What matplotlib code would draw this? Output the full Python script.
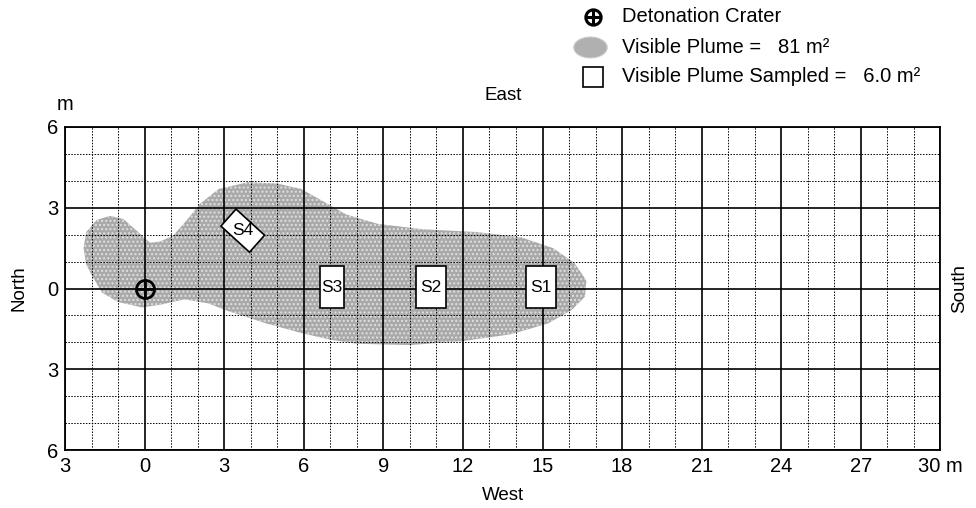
import matplotlib
matplotlib.use("Agg")
import matplotlib.pyplot as plt
from matplotlib.patches import Polygon, Rectangle
from matplotlib.lines import Line2D
from matplotlib.path import Path
from matplotlib.ticker import MultipleLocator, FixedLocator
import numpy as np

plt.rcParams['font.family'] = ['Liberation Sans', 'DejaVu Sans']

# plume outline (m)
plume_x = [-2.3, -2.2, -1.8, -1.3, -0.8, -0.3, 0.2, 0.6, 1.08, 1.6, 2.1, 2.8, 3.9, 5.0,
           5.9, 6.8, 7.6, 8.8, 10.5, 12.5, 14.2, 15.4, 16.2, 16.65, 16.6, 16.1, 15.2,
           13.8, 12.0, 10.0, 8.0, 7.0, 5.9, 4.6, 3.1, 2.4, 1.5, 0.6, -0.1, -1.0, -1.6,
           -2.0, -2.2]
plume_y = [1.5, 2.1, 2.55, 2.7, 2.58, 2.15, 1.7, 1.75, 1.97, 2.55, 3.16, 3.7, 3.95, 3.9,
           3.7, 3.2, 2.75, 2.4, 2.2, 2.1, 1.9, 1.5, 0.95, 0.3, -0.3, -0.8, -1.3,
           -1.7, -1.95, -2.1, -2.05, -1.9, -1.65, -1.3, -0.82, -0.55, -0.4, -0.6, -0.7,
           -0.5, -0.15, 0.5, 0.9]

crater = (0, 0)

sample_names = ['S1', 'S2', 'S3', 'S4']
sample_x = [14.95, 10.8, 7.07, 3.7]
sample_y = [0.05, 0.05, 0.05, 2.15]
sample_w = [1.15, 1.15, 0.9, 1.45]
sample_h = [1.55, 1.55, 1.55, 0.85]
sample_angle = [0, 0, 0, -42]

x_ticks = [-3, 0, 3, 6, 9, 12, 15, 18, 21, 24, 27, 30]
x_labels = ['3', '0', '3', '6', '9', '12', '15', '18', '21', '24', '27', '30 m']
y_ticks = [-6, -3, 0, 3, 6]
y_labels = ['6', '3', '0', '3', '6']

fig = plt.figure(figsize=(9.76, 5.08), dpi=100)
ax = fig.add_axes([0.0666, 0.114, 0.897, 0.636])
ax.set_xlim(-3, 30)
ax.set_ylim(-6, 6)

# plume: grey fill plus stipple
pts = np.column_stack([plume_x, plume_y])
ax.add_patch(Polygon(pts, closed=True, facecolor='#a9a9a9', edgecolor='none', zorder=1))
ax.add_patch(Polygon(pts, closed=True, facecolor='none', edgecolor='#e0e0e0',
                     hatch='....', lw=0, zorder=1.1))

# grid
ax.xaxis.set_major_locator(FixedLocator(x_ticks))
ax.yaxis.set_major_locator(FixedLocator(y_ticks))
ax.xaxis.set_minor_locator(MultipleLocator(1))
ax.yaxis.set_minor_locator(MultipleLocator(1))
ax.grid(which='major', color='black', lw=1.2, ls='-', zorder=2)
ax.grid(which='minor', color='black', lw=0.7, ls=(0, (1.5, 1.5)), zorder=2)
ax.set_axisbelow(False)
ax.tick_params(which='both', length=0, labelsize=14.5, pad=5)
ax.set_xticklabels(x_labels)
ax.set_yticklabels(y_labels)
for s in ax.spines.values():
    s.set_linewidth(1.3)
    s.set_zorder(5)

# samples
for name, x, y, w, h, a in zip(sample_names, sample_x, sample_y, sample_w, sample_h, sample_angle):
    ax.add_patch(Rectangle((x - w / 2, y - h / 2), w, h, angle=a, rotation_point='center',
                           facecolor='white', edgecolor='black', lw=1.2, zorder=6))
    ax.text(x, y, name, ha='center', va='center', fontsize=12.5, zorder=7)

# crater
ax.plot(*crater, marker='o', ms=13, mfc='none', mec='black', mew=2, zorder=7)
ax.plot(*crater, marker='+', ms=13, mec='black', mew=2, zorder=7)

# direction labels
ax.text(0.5, 1.096, 'East', transform=ax.transAxes, ha='center', va='center', fontsize=13.5)
ax.text(0.5, -0.142, 'West', transform=ax.transAxes, ha='center', va='center', fontsize=13.5)
ax.text(-0.043, 0.5, 'North', transform=ax.transAxes, ha='right', va='center',
        rotation=90, fontsize=13.5)
ax.text(1.012, 0.5, 'South', transform=ax.transAxes, ha='left', va='center',
        rotation=90, fontsize=13.5)
ax.text(0.0, 1.07, 'm', transform=ax.transAxes, ha='center', va='center', fontsize=14.5)

# legend
lx = 593 / 976
ty = [1 - 17 / 508, 1 - 47 / 508, 1 - 77 / 508]
tx = 622 / 976
fig.add_artist(Line2D([lx], [ty[0]], transform=fig.transFigure, marker='o', ms=11,
                      mfc='none', mec='black', mew=2.2))
fig.add_artist(Line2D([lx], [ty[0]], transform=fig.transFigure, marker='+', ms=11,
                      mec='black', mew=2.2))
theta = np.linspace(0, 2 * np.pi, 60)
ell = Path(np.column_stack([1.6 * np.cos(theta), np.sin(theta)]))
fig.add_artist(Line2D([lx - 0.003], [ty[1]], transform=fig.transFigure, marker=ell, ms=24,
                      mfc='#b0b0b0', mec='#c8c8c8', mew=0.8))
fig.add_artist(Line2D([lx], [ty[2]], transform=fig.transFigure, marker='s', ms=14,
                      mfc='white', mec='black', mew=1.2))
labels = ['Detonation Crater', 'Visible Plume =   81 m\u00b2', 'Visible Plume Sampled =   6.0 m\u00b2']
for y, t in zip(ty, labels):
    fig.text(tx, y, t, ha='left', va='center', fontsize=14.5)

fig.savefig('out.png', dpi=100)
